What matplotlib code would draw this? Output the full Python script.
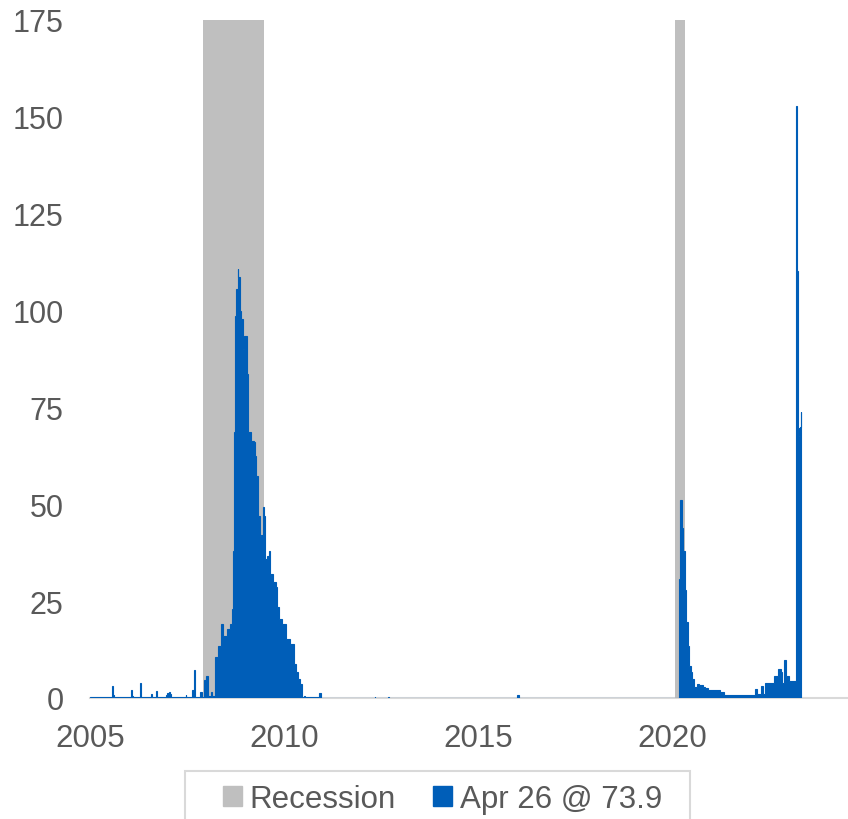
import matplotlib.pyplot as plt
import matplotlib.dates as mdates
import pandas as pd
from matplotlib.patches import Patch, Rectangle

BLUE = "#005EB8"
GREY = "#BFBFBF"
TEXT = "#595959"
AXIS = "#D9D9D9"

# Discount window primary credit, $bn. Weekly readings, listed only where the level changes.
credit_dates = [
    "2005-01-05", "2005-07-27", "2005-08-10", "2005-08-17",
    "2006-01-18", "2006-02-01", "2006-02-08", "2006-04-12", "2006-04-26",
    "2006-08-02", "2006-08-09", "2006-09-13", "2006-09-27",
    "2006-12-20", "2006-12-27", "2007-01-10", "2007-01-24", "2007-02-07",
    "2007-06-20", "2007-06-27", "2007-08-22", "2007-09-05", "2007-09-19",
    "2007-11-07", "2007-11-21", "2007-12-12", "2007-12-26", "2008-01-02",
    "2008-01-16", "2008-01-30", "2008-02-13", "2008-02-27",
    "2008-03-26", "2008-04-16", "2008-05-21", "2008-06-04", "2008-07-09",
    "2008-08-13", "2008-08-27", "2008-09-10", "2008-09-17", "2008-09-24",
    "2008-10-08", "2008-10-22", "2008-10-29", "2008-11-12", "2008-11-26",
    "2008-12-10", "2008-12-17", "2009-01-14", "2009-01-28", "2009-02-25",
    "2009-03-25", "2009-04-01", "2009-04-15", "2009-05-06", "2009-05-20",
    "2009-06-03", "2009-06-17", "2009-07-01", "2009-07-08", "2009-07-29",
    "2009-08-12", "2009-08-26", "2009-09-23", "2009-10-14", "2009-10-28",
    "2009-11-18", "2009-12-09", "2010-01-20", "2010-02-24", "2010-04-07",
    "2010-04-21", "2010-05-12", "2010-06-02", "2010-06-16",
    "2010-07-07", "2010-07-14", "2010-12-01", "2010-12-15",
    "2012-05-02", "2012-05-09", "2012-09-05", "2012-09-12",
    "2016-01-06", "2016-01-20",
    "2020-03-11", "2020-03-18", "2020-04-01", "2020-04-15", "2020-04-29",
    "2020-05-13", "2020-05-27", "2020-06-10", "2020-06-24", "2020-07-08",
    "2020-07-29", "2020-08-19", "2020-09-16", "2020-10-21", "2020-11-04",
    "2020-12-02", "2021-03-24", "2021-05-05", "2022-02-16", "2022-03-09",
    "2022-04-20", "2022-05-11", "2022-05-25", "2022-08-17", "2022-09-21",
    "2022-10-19", "2022-11-02", "2022-11-23", "2022-12-14", "2023-01-04",
    "2023-03-15", "2023-03-22", "2023-03-29", "2023-04-05", "2023-04-12",
    "2023-04-19", "2023-04-26",
]
credit_bn = [
    0.2, 3.1, 0.8, 0.2,
    2.1, 0.6, 0.2, 3.8, 0.2,
    1.0, 0.2, 1.7, 0.2,
    0.8, 1.2, 1.6, 1.0, 0.2,
    0.8, 0.2, 2.0, 7.1, 0.3,
    1.5, 0.3, 4.7, 5.0, 5.6,
    0.5, 0.5, 1.5, 0.4,
    10.6, 13.5, 19.1, 16.0, 17.8,
    19.0, 23.0, 38.0, 68.7, 98.7,
    105.6, 110.7, 108.6, 100.0, 97.8,
    90.0, 93.5, 83.6, 68.6, 66.4,
    66.0, 62.5, 57.4, 47.0, 41.9,
    42.2, 49.3, 47.0, 35.9, 36.7,
    38.0, 32.0, 30.0, 28.6, 23.4,
    20.4, 19.0, 15.2, 13.9, 8.8,
    6.6, 4.9, 3.6, 0.2,
    0.6, 0.2, 1.2, 0.1,
    0.3, 0.1, 0.3, 0.1,
    0.8, 0.1,
    30.7, 51.0, 44.0, 38.0, 28.0,
    19.5, 13.5, 8.3, 6.6, 4.9,
    2.8, 3.6, 3.4, 2.8, 2.5,
    2.0, 1.5, 0.8, 2.3, 1.0,
    3.2, 1.0, 4.0, 5.7, 7.6,
    6.6, 3.9, 9.9, 5.6, 4.5,
    152.9, 110.2, 88.2, 69.7, 67.6,
    69.9, 73.9,
]

recession_start = ["2007-12-01", "2020-02-01"]
recession_end = ["2009-07-01", "2020-05-01"]

latest_label = "Apr 26 @ 73.9"

plt.rcParams["font.family"] = ["Liberation Sans", "DejaVu Sans"]

fig = plt.figure(figsize=(8.48, 8.2), dpi=100)
ax = fig.add_axes([90 / 848, 1 - 699 / 820, 1 - 90 / 848, 678 / 820])

for start, end in zip(recession_start, recession_end):
    ax.axvspan(pd.Timestamp(start), pd.Timestamp(end), color=GREY, lw=0, zorder=1)

dates = pd.to_datetime(credit_dates)
# each reading holds until the next one; the latest one is held for a week
edges = mdates.date2num(list(dates) + [dates[-1] + pd.Timedelta(weeks=1)])
ax.stairs(credit_bn, edges, baseline=0, fill=True, facecolor=BLUE,
          edgecolor=BLUE, lw=0.8, zorder=2)
ax.xaxis_date()

ax.set_ylim(0, 175)
ax.set_yticks(range(0, 176, 25))
ax.set_xlim(pd.Timestamp("2005-01-01"), pd.Timestamp("2024-07-15"))
ax.xaxis.set_major_locator(mdates.YearLocator(5))
ax.xaxis.set_major_formatter(mdates.DateFormatter("%Y"))

for side in ["top", "right", "left"]:
    ax.spines[side].set_visible(False)
ax.spines["bottom"].set_color(AXIS)
ax.spines["bottom"].set_linewidth(1.5)
ax.spines["bottom"].set_zorder(0)
ax.tick_params(axis="y", length=0, pad=19, labelsize=22, labelcolor=TEXT)
ax.tick_params(axis="x", length=0, pad=18, labelsize=22.5, labelcolor=TEXT)

handles = [Patch(color=GREY, label="Recession"), Patch(color=BLUE, label=latest_label)]
fig.legend(
    handles=handles,
    loc="upper left",
    bbox_to_anchor=(223 / 848, 1 - 785 / 820),
    ncol=2,
    frameon=False,
    fontsize=22.5,
    labelcolor=TEXT,
    handlelength=0.6,
    handleheight=0.6,
    handletextpad=0.25,
    columnspacing=1.2,
    borderpad=0,
    borderaxespad=0,
)
# legend box runs off the bottom edge
fig.patches.append(
    Rectangle(
        (185 / 848, -0.05), (690 - 185) / 848, 0.05 + 1 - 771.7 / 820,
        transform=fig.transFigure, fill=False, edgecolor=AXIS, lw=1.5,
    )
)

fig.savefig("out.png", dpi=100)
